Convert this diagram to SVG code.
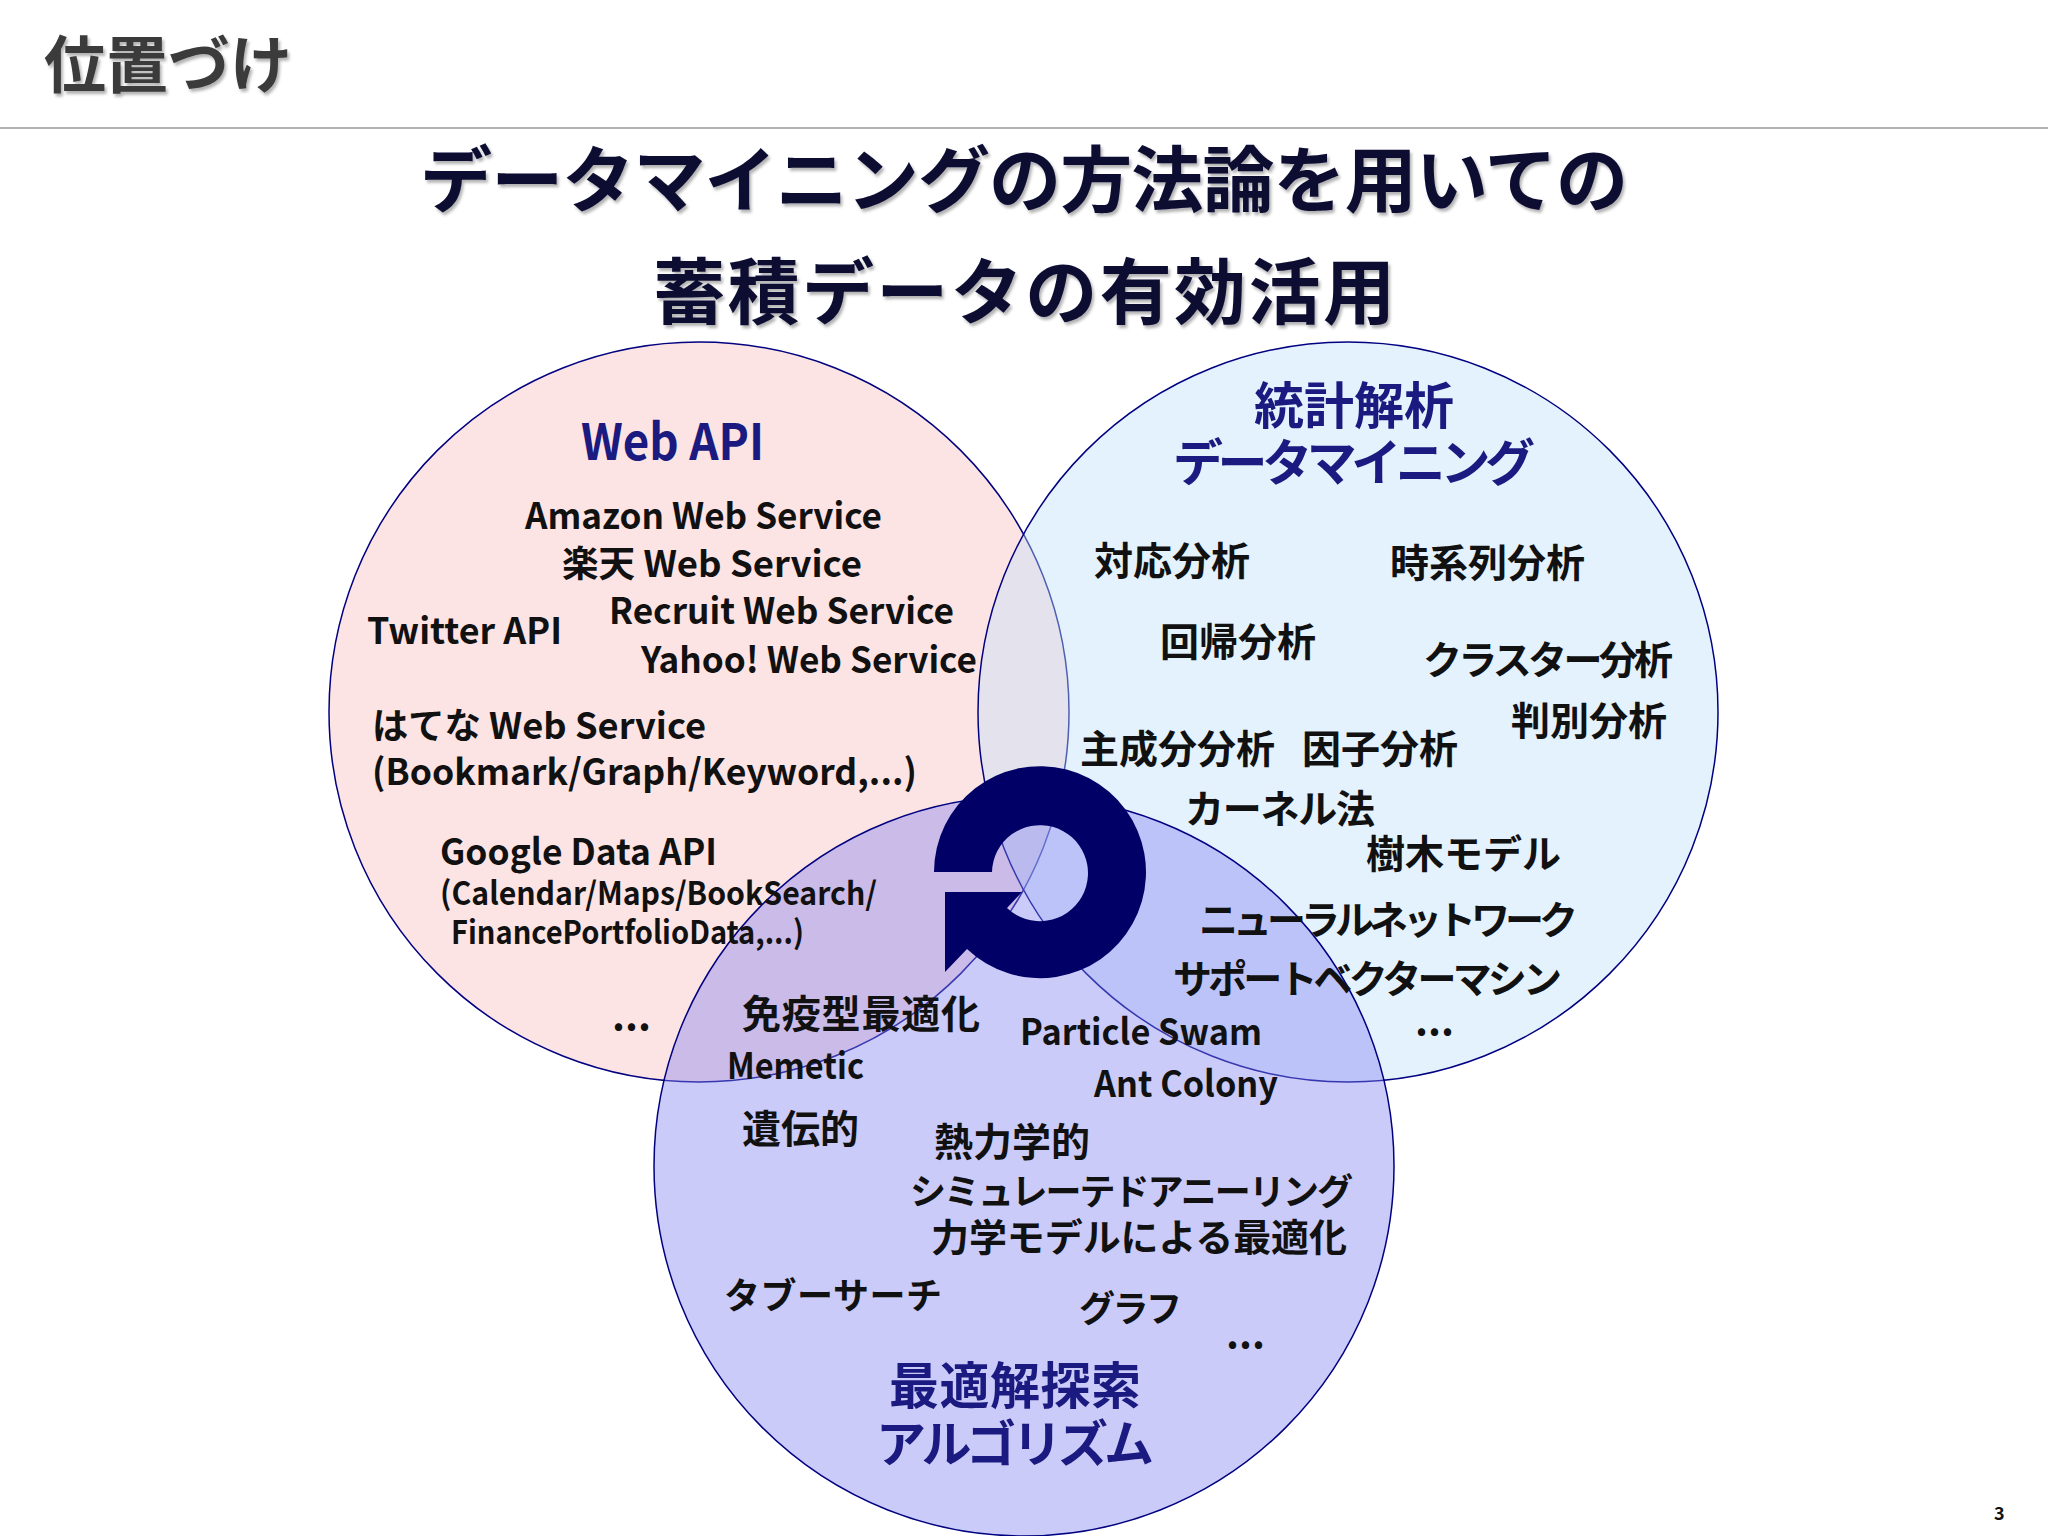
<svg xmlns="http://www.w3.org/2000/svg" width="2048" height="1536" viewBox="0 0 2048 1536">
<defs>
<style>
text{font-family:"Noto Sans CJK JP","Liberation Sans",sans-serif;font-weight:bold;fill:#111;}
.t{fill:#0a0a30;font-size:72px;}
.h{fill:#1a1a80;font-size:50px;}
.l{font-size:36px;}
.j{font-size:39px;}
.c{text-anchor:middle;}
</style>
<filter id="sh" x="-5%" y="-5%" width="110%" height="120%"><feDropShadow dx="2" dy="3" stdDeviation="1.5" flood-color="#000" flood-opacity="0.3"/></filter>
</defs>
<rect width="2048" height="1536" fill="#fff"/>
<text x="44" y="88" font-size="62" style="fill:#3a3a3a" filter="url(#sh)">位置づけ</text>
<line x1="0" y1="128" x2="2048" y2="128" stroke="#999" stroke-width="1.5"/>
<g filter="url(#sh)">
<text class="t c" x="1024" y="206" textLength="1208">データマイニングの方法論を用いての</text>
<text class="t c" x="1024" y="318" textLength="742">蓄積データの有効活用</text>
</g>
<g id="circles" stroke="#000080" stroke-width="1.5">
<circle id="webapi" cx="699" cy="712" r="370" fill="rgb(250,195,195)" fill-opacity="0.45"/>
<circle id="stat" cx="1348" cy="712" r="370" fill="rgb(190,225,250)" fill-opacity="0.42"/>
<circle id="opt" cx="1024" cy="1166" r="370" fill="rgb(130,130,240)" fill-opacity="0.42"/>
</g>
<g id="connectors">
<path d="M934,872 A106,106 0 1 1 967,949 L945,972 L945,892 L1022,892 L1007,908 A48,48 0 1 0 992,872 Z" fill="#000066"/>
</g>
<g id="n-web">
<text class="h" x="581" y="460" textLength="183" lengthAdjust="spacingAndGlyphs">Web API</text>
<text class="l" x="525" y="529" textLength="357" lengthAdjust="spacingAndGlyphs">Amazon Web Service</text>
<text class="l" x="562" y="577" textLength="300" lengthAdjust="spacingAndGlyphs">楽天 Web Service</text>
<text class="l" x="609" y="624" textLength="345" lengthAdjust="spacingAndGlyphs">Recruit Web Service</text>
<text class="l" x="367" y="644" textLength="195" lengthAdjust="spacingAndGlyphs">Twitter API</text>
<text class="l" x="641" y="673" textLength="336" lengthAdjust="spacingAndGlyphs">Yahoo! Web Service</text>
<text class="l" x="372" y="739" textLength="334" lengthAdjust="spacingAndGlyphs">はてな Web Service</text>
<text class="l" x="372" y="785" textLength="545" lengthAdjust="spacingAndGlyphs">(Bookmark/Graph/Keyword,...)</text>
<text class="l" x="440" y="865" textLength="277" lengthAdjust="spacingAndGlyphs">Google Data API</text>
<text x="440" y="905" font-size="32" textLength="437" lengthAdjust="spacingAndGlyphs">(Calendar/Maps/BookSearch/</text>
<text x="451" y="944" font-size="32" textLength="353" lengthAdjust="spacingAndGlyphs">FinancePortfolioData,...)</text>
<text x="612" y="1030" font-size="40">...</text>
</g>
<g id="n-stat">
<text class="h c" x="1354" y="424" textLength="200">統計解析</text>
<text class="h c" x="1354" y="481" textLength="362">データマイニング</text>
<text class="j" x="1094" y="575">対応分析</text>
<text class="j" x="1390" y="577">時系列分析</text>
<text class="j" x="1160" y="656">回帰分析</text>
<text class="j" x="1423" y="674" textLength="250">クラスター分析</text>
<text class="j" x="1511" y="735">判別分析</text>
<text class="j" x="1080" y="763">主成分分析</text>
<text class="j" x="1302" y="763">因子分析</text>
<text class="j" x="1185" y="823" textLength="190">カーネル法</text>
<text class="j" x="1366" y="868">樹木モデル</text>
<text class="j" x="1199" y="934" textLength="379">ニューラルネットワーク</text>
<text class="j" x="1173" y="993" textLength="389">サポートベクターマシン</text>
<text x="1415" y="1035" font-size="40">...</text>
</g>
<g id="n-opt">
<text class="j" x="742" y="1028" textLength="238">免疫型最適化</text>
<text class="l" x="727" y="1079" textLength="137" lengthAdjust="spacingAndGlyphs">Memetic</text>
<text class="l" x="1020" y="1045" textLength="242" lengthAdjust="spacingAndGlyphs">Particle Swam</text>
<text class="l" x="1094" y="1097" textLength="184" lengthAdjust="spacingAndGlyphs">Ant Colony</text>
<text class="j" x="742" y="1143">遺伝的</text>
<text class="j" x="934" y="1156">熱力学的</text>
<text x="910" y="1205" font-size="36" textLength="443">シミュレーテドアニーリング</text>
<text x="931" y="1251" font-size="38" textLength="416">力学モデルによる最適化</text>
<text x="724" y="1309" font-size="36" textLength="218">タブーサーチ</text>
<text x="1079" y="1322" font-size="36" textLength="103">グラフ</text>
<text x="1226" y="1348" font-size="40">...</text>
<text class="h c" x="1015" y="1404" textLength="252">最適解探索</text>
<text class="h c" x="1015" y="1462" textLength="278">アルゴリズム</text>
</g>
<text x="1994" y="1520" font-size="18">3</text>
</svg>
